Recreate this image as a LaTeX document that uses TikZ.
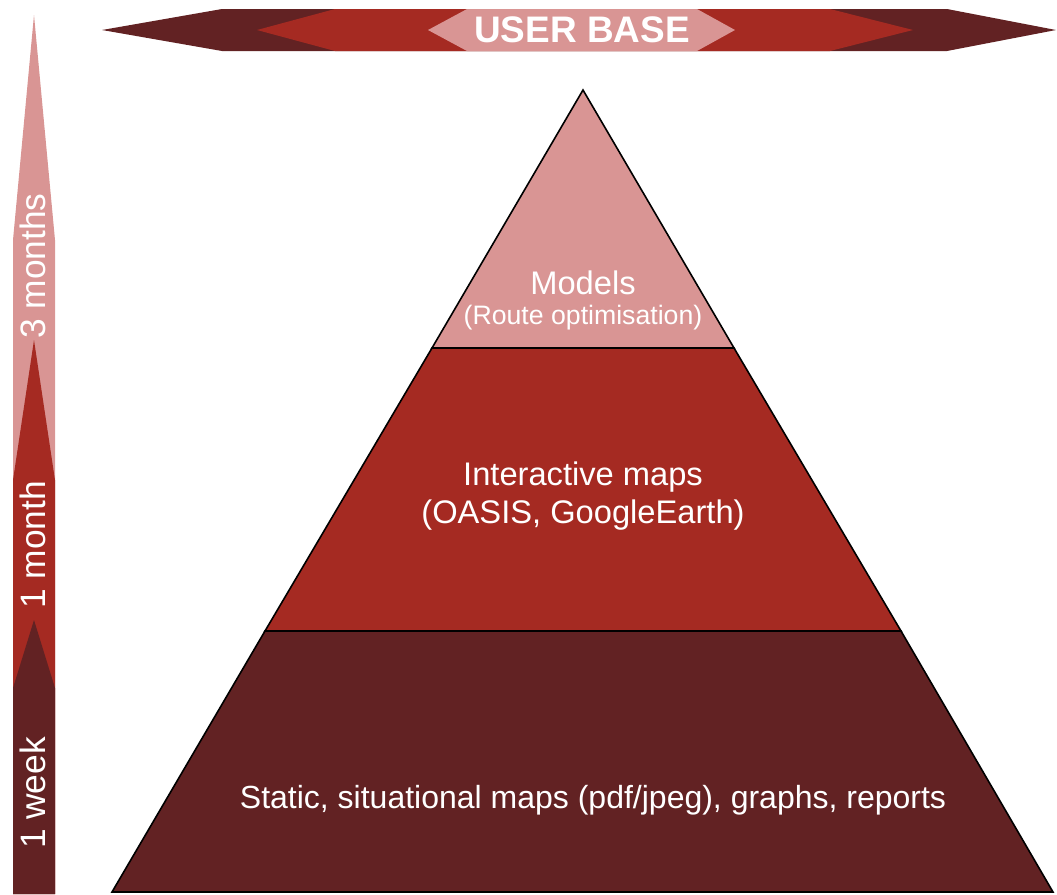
\documentclass[tikz,border=0pt]{standalone}
\usepackage{fontspec}
\setmainfont{Liberation Sans}
\definecolor{cdark}{HTML}{622223}
\definecolor{cred}{HTML}{A52A22}
\definecolor{cpink}{HTML}{D99594}
\begin{document}
\begin{tikzpicture}[x=0.75pt,y=-0.75pt,
  tier/.style={draw=black,line width=1.2pt,line join=miter},
  lbl/.style={text=white,font=\fontsize{24.5pt}{29pt}\selectfont,align=center,inner sep=0pt},
  sub/.style={text=white,font=\fontsize{20pt}{23pt}\selectfont,inner sep=0pt},
  vlbl/.style={text=white,font=\fontsize{26.5pt}{30pt}\selectfont,rotate=90,inner sep=0pt}]
\useasboundingbox (0,0) rectangle (1057,894);
% top double arrows
\fill[cdark] (102,30) -- (222,9) -- (947,9) -- (1056,30) -- (947,51) -- (222,51) -- cycle;
\fill[cred] (257,30) -- (335,9) -- (830,9) -- (913,30) -- (830,51) -- (335,51) -- cycle;
\fill[cpink] (428,30) -- (467,9) -- (697,9) -- (735,30) -- (697,51) -- (467,51) -- cycle;
\node[text=white,font=\bfseries\fontsize{27.7pt}{32pt}\selectfont,inner sep=0pt] (ub) at (582,30) {USER BASE};
% left stacked arrows
\fill[cpink] (34,15) -- (55,240) -- (55,894) -- (13,894) -- (13,240) -- cycle;
\fill[cred] (34,340) -- (55,480) -- (55,894) -- (13,894) -- (13,480) -- cycle;
\fill[cdark] (34,620) -- (55,688) -- (55,894) -- (13,894) -- (13,688) -- cycle;
\node[vlbl] (m3) at (33,266) {3 months};
\node[vlbl] (m1) at (33,545) {1 month};
\node[vlbl] (w1) at (33,793) {1 week};
% pyramid
\coordinate (apex) at (583,90);
\coordinate (l1) at (432,348);
\coordinate (r1) at (734,348);
\coordinate (l2) at (265,631);
\coordinate (r2) at (901,631);
\coordinate (bl) at (112,892);
\coordinate (br) at (1053,892);
\filldraw[tier,fill=cdark] (l2) -- (r2) -- (br) -- (bl) -- cycle;
\filldraw[tier,fill=cred] (l1) -- (r1) -- (r2) -- (l2) -- cycle;
\filldraw[tier,fill=cpink] (apex) -- (r1) -- (l1) -- cycle;
\node[lbl] (models) at (583,283) {Models};
\node[sub] (route) at (583,318) {(Route optimisation)};
\node[lbl] (inter) at (583,496) {Interactive maps\\(OASIS, GoogleEarth)};
\node[lbl,font=\fontsize{24pt}{29pt}\selectfont] (static) at (593,800) {Static, situational maps (pdf/jpeg), graphs, reports};
\end{tikzpicture}
\end{document}
